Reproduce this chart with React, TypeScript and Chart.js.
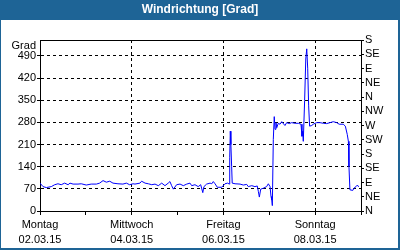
import React, { useEffect, useRef } from "react";
import { Chart, registerables } from "chart.js";

Chart.register(...registerables);

// hours since Monday 02.03.15 00:00
const hours = [
  0, 1.6, 3.3, 5.9, 7.7, 9.4, 11.1, 12.9, 14.7, 15.7, 17.3, 19.9, 21.6, 24.2, 26.8, 29.5, 31.2, 33.0, 34.7, 36.5,
  38.2, 40.8, 43.4, 45.2, 46.9, 48.7, 49.7, 52.3, 53.2, 55.0, 56.7, 58.5, 60.2, 61.9, 63.7, 65.4, 67.1, 68.0, 68.9,
  69.8, 71.5, 73.3, 75.0, 76.8, 78.5, 79.4, 81.1, 82.8, 84.1, 85.2, 85.8, 87.2, 89.0, 89.9, 90.7, 91.6, 92.8, 95.1,
  96.8, 98.2, 99.1, 99.3, 99.6, 99.9, 100.3, 100.6, 102.1, 104.7, 106.4, 108.2, 109.0, 110.8, 112.5, 113.7, 114.3,
  114.8, 115.5, 116.9, 118.6, 119.5, 120.4, 120.9, 121.3, 121.6, 122.1, 122.6, 123.0, 123.5, 123.9, 124.7, 125.6,
  126.5, 128.2, 129.1, 130.5, 131.7, 133.5, 135.2, 136.6, 137.1, 137.5, 137.8, 138.5, 139.1, 139.6, 140.1, 140.6,
  141.1, 142.2, 143.0, 144.8, 146.5, 148.3, 150.0, 151.8, 153.5, 155.3, 156.6, 158.7, 159.8, 160.8, 161.4, 161.7,
  162.2, 163.7, 164.3, 165.4, 166.1, 166.8,
];

const direction = [
  88, 77, 74, 77, 83, 86, 83, 88, 83, 88, 85, 85, 86, 82, 85, 85, 88, 96, 91, 94,
  88, 86, 85, 88, 83, 86, 85, 88, 94, 88, 86, 83, 85, 80, 88, 80, 88, 93, 80,
  69, 83, 85, 80, 85, 88, 80, 83, 77, 83, 58, 77, 85, 88, 86, 93, 86, 75, 75,
  86, 88, 85, 168, 252, 210, 140, 88, 86, 85, 82, 84, 77, 80, 77, 79, 61,
  44, 69, 72, 77, 86, 77, 46, 35, 17, 226, 298, 258, 279, 263, 277, 274,
  282, 270, 279, 276, 279, 277, 277, 274, 236, 252, 220, 349, 480, 512, 451, 332,
  268, 270, 274, 279, 279, 277, 276, 279, 282, 279, 274, 274, 268, 242, 220, 141,
  67, 65, 72, 77, 82, 76,
];

const dayNames = ["Montag", "Mittwoch", "Freitag", "Sonntag"];
const dateLabels = ["02.03.15", "04.03.15", "06.03.15", "08.03.15"];
const compassLabels = ["N", "NE", "E", "SE", "S", "SW", "W", "NW", "N", "NE", "E", "SE", "S"];

const FONT = "'Liberation Sans', Arial, sans-serif";
const FRAME_BLUE = "#1e6496";

const framePlugin = {
  id: "frame",
  beforeDraw(chart: any) {
    const { ctx, width, height } = chart;
    ctx.save();
    ctx.fillStyle = "#ffffff";
    ctx.fillRect(0, 0, width, height);
    ctx.fillStyle = FRAME_BLUE;
    ctx.fillRect(0, 0, width, 20);
    ctx.fillRect(0, 0, 1, height);
    ctx.fillRect(width - 2, 0, 2, height);
    ctx.fillRect(0, height - 2, width, 2);
    ctx.restore();
  },
  afterDraw(chart: any) {
    const { ctx, chartArea } = chart;
    ctx.save();
    ctx.strokeStyle = "#000";
    ctx.lineWidth = 1;
    ctx.beginPath();
    ctx.moveTo(chartArea.left, Math.round(chartArea.top) + 0.5);
    ctx.lineTo(chartArea.right, Math.round(chartArea.top) + 0.5);
    ctx.stroke();
    ctx.fillStyle = "#000";
    ctx.font = `11px ${FONT}`;
    ctx.textAlign = "right";
    ctx.textBaseline = "middle";
    ctx.fillText("Grad", chartArea.left - 4, 46);
    ctx.restore();
  },
};

export default function App() {
  const ref = useRef<HTMLCanvasElement | null>(null);

  useEffect(() => {
    if (!ref.current) return;
    const points = hours.map((h, i) => ({ x: h, y: direction[i] }));
    const chart = new Chart(ref.current, {
      type: "line",
      data: {
        datasets: [
          {
            data: points,
            borderColor: "#0000ff",
            borderWidth: 1,
            pointRadius: 0,
            tension: 0,
            fill: false,
            yAxisID: "y",
          },
        ],
      },
      plugins: [framePlugin],
      options: {
        animation: false,
        responsive: false,
        events: [],
        layout: { padding: 0 },
        plugins: {
          legend: { display: false },
          tooltip: { enabled: false },
          title: {
            display: true,
            text: "Windrichtung [Grad]",
            color: "#ffffff",
            font: { family: FONT, size: 12, weight: "bold", lineHeight: "14px" },
            padding: { top: 3, bottom: 23 },
          },
        },
        scales: {
          x: {
            type: "linear",
            position: "bottom",
            min: 0,
            max: 168,
            afterFit: (s: any) => {
              s.height = 39;
            },
            ticks: {
              stepSize: 24,
              autoSkip: false,
              maxRotation: 0,
              minRotation: 0,
              padding: 2.5,
              color: "#000",
              font: { family: FONT, size: 11, lineHeight: "15px" },
              callback: (v: any) => {
                const val = Number(v);
                if (val % 48 === 0 && val < 168) {
                  const i = val / 48;
                  return [dayNames[i], dateLabels[i]];
                }
                return "";
              },
            },
            grid: {
              color: (c: any) => {
                const v = c.tick ? c.tick.value : 0;
                return v % 48 === 0 && v > 0 && v < 168 ? "#000" : "rgba(0,0,0,0)";
              },
              lineWidth: 1,
              tickColor: "#000",
              tickLength: 4,
              drawTicks: true,
            },
            border: { display: true, color: "#000", width: 1, dash: [3, 3] },
          },
          y: {
            type: "linear",
            position: "left",
            min: 0,
            max: 540,
            afterFit: (s: any) => {
              s.width = 40;
            },
            ticks: {
              stepSize: 70,
              includeBounds: false,
              autoSkip: false,
              padding: 1,
              color: "#000",
              font: { family: FONT, size: 11 },
            },
            grid: {
              color: (c: any) => {
                const v = c.tick ? c.tick.value : 0;
                return v > 0 ? "#000" : "rgba(0,0,0,0)";
              },
              lineWidth: 1,
              tickColor: "#000",
              tickLength: 3,
            },
            border: { display: true, color: "#000", width: 1, dash: [3, 3] },
          },
          y2: {
            type: "linear",
            position: "right",
            min: 0,
            max: 540,
            afterFit: (s: any) => {
              s.width = 39;
            },
            ticks: {
              stepSize: 45,
              includeBounds: false,
              autoSkip: false,
              padding: 1,
              color: "#000",
              font: { family: FONT, size: 11 },
              callback: (v: any) => compassLabels[Math.round(Number(v) / 45)] ?? "",
            },
            grid: {
              drawOnChartArea: false,
              tickColor: "#000",
              tickLength: 3,
            },
            border: { display: true, color: "#000", width: 1 },
          },
        },
      } as any,
    });
    return () => chart.destroy();
  }, []);

  return (
    <div style={{ position: "absolute", left: 0, top: 0, width: 400, height: 250 }}>
      <canvas ref={ref} width={400} height={250} style={{ display: "block" }} />
    </div>
  );
}
